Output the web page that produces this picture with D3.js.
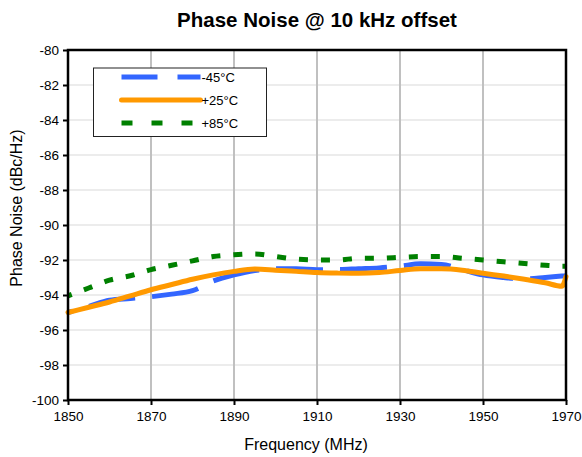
<!DOCTYPE html>
<html>
<head>
<meta charset="utf-8">
<script src="https://cdn.jsdelivr.net/npm/d3@7"></script>
<style>
  body { margin: 0; background: #fff; }
  svg { font-family: Arial, "Liberation Sans", sans-serif; }
</style>
</head>
<body>
<div id="chart"></div>
<script>
// frequency points (MHz)
var freqs = [1850, 1855, 1860, 1865, 1870, 1875, 1880, 1885, 1890, 1895, 1900, 1905, 1910,
             1915, 1920, 1925, 1930, 1935, 1940, 1945, 1950, 1955, 1960, 1965, 1969, 1970];

// phase noise (dBc/Hz) per temperature
var noiseM45 = [-95.0, -94.65, -94.3, -94.2, -94.1, -93.95, -93.75, -93.2, -92.85, -92.6, -92.5, -92.5, -92.55,
                -92.55, -92.5, -92.45, -92.35, -92.22, -92.25, -92.55, -92.85, -93.0, -93.08, -93.0, -92.92, -92.9];
var noiseP25 = [-95.0, -94.7, -94.4, -94.05, -93.7, -93.4, -93.1, -92.85, -92.65, -92.52, -92.58, -92.65, -92.72,
                -92.75, -92.76, -92.72, -92.6, -92.5, -92.5, -92.58, -92.76, -92.92, -93.1, -93.3, -93.5, -92.95];
var noiseP85 = [-94.05, -93.6, -93.15, -92.9, -92.55, -92.3, -92.05, -91.8, -91.7, -91.65, -91.8, -91.95, -92.0,
                -92.0, -91.9, -91.9, -91.85, -91.8, -91.8, -91.9, -92.0, -92.1, -92.2, -92.3, -92.35, -92.35];

var seriesNames = ["-45°C", "+25°C", "+85°C"];
var xTicks = [1850, 1870, 1890, 1910, 1930, 1950, 1970];
var yTicks = [-80, -82, -84, -86, -88, -90, -92, -94, -96, -98, -100];

var width = 582, height = 457;
var margin = {left: 68, right: 16, top: 50, bottom: 57};
var innerW = width - margin.left - margin.right;
var innerH = height - margin.top - margin.bottom;

var svg = d3.select("#chart")
    .append("svg")
    .attr("width", width)
    .attr("height", height)

var x = d3.scaleLinear().domain([1850, 1970]).range([0, innerW]);
var y = d3.scaleLinear().domain([-100, -80]).range([innerH, 0]);

// title
svg.append("text")
    .attr("x", margin.left + innerW / 2)
    .attr("y", 27)
    .attr("text-anchor", "middle")
    .attr("font-size", "20.5px")
    .attr("font-weight", "bold")
    .text("Phase Noise @ 10 kHz offset")

var g = svg.append("g")
    .attr("transform", "translate(" + margin.left + "," + margin.top + ")")

// gridlines
g.selectAll(".hgrid")
    .data(yTicks.slice(1, -1)).enter().append("line")
        .attr("class", "hgrid")
        .attr("x1", 0).attr("x2", innerW)
        .attr("y1", function(d){ return y(d) })
        .attr("y2", function(d){ return y(d) })
        .attr("stroke", "#d9d9d9")
        .attr("stroke-width", 1)

g.selectAll(".vgrid")
    .data(xTicks.slice(1, -1)).enter().append("line")
        .attr("class", "vgrid")
        .attr("y1", 0).attr("y2", innerH)
        .attr("x1", function(d){ return x(d) })
        .attr("x2", function(d){ return x(d) })
        .attr("stroke", "#c0c0c0")
        .attr("stroke-width", 2)

// axes
var yAxis = d3.axisLeft(y)
    .tickValues(yTicks)
    .tickSize(5)
    .tickPadding(4)
    .tickFormat(function(d){ return String(d) })

var xAxis = d3.axisBottom(x)
    .tickValues(xTicks)
    .tickSize(5)
    .tickPadding(6)
    .tickFormat(function(d){ return String(d) })

var ya = g.append("g").call(yAxis)
var xa = g.append("g").attr("transform", "translate(0," + innerH + ")").call(xAxis)

;[ya, xa].forEach(function(a){
    a.select(".domain").remove()
    a.selectAll(".tick line").attr("stroke", "#000").attr("stroke-width", 2)
    a.selectAll(".tick text")
        .attr("font-size", "13.5px")
        .attr("font-family", "Arial, 'Liberation Sans', sans-serif")
        .attr("fill", "#000")
})

// axis titles
svg.append("text")
    .attr("x", 306)
    .attr("y", 450)
    .attr("text-anchor", "middle")
    .attr("font-size", "16px")
    .text("Frequency (MHz)")

svg.append("text")
    .attr("transform", "translate(22,208) rotate(-90)")
    .attr("text-anchor", "middle")
    .attr("font-size", "16px")
    .text("Phase Noise (dBc/Hz)")

// series
var series = [
    {name: seriesNames[0], values: noiseM45, color: "#3366ff", dash: "47,17", offset: 42, cap: "butt"},
    {name: seriesNames[1], values: noiseP25, color: "#ff9900", dash: null, offset: 0, cap: "round"},
    {name: seriesNames[2], values: noiseP85, color: "#008000", dash: "9,13", offset: 5, cap: "butt"}
]

var line = d3.line()
    .x(function(d){ return x(d[0]) })
    .y(function(d){ return y(d[1]) })
    .curve(d3.curveMonotoneX)

g.selectAll(".series")
    .data(series).enter().append("path")
        .attr("class", "series")
        .attr("d", function(s){ return line(freqs.map(function(f, i){ return [f, s.values[i]] })) })
        .attr("fill", "none")
        .attr("stroke", function(s){ return s.color })
        .attr("stroke-width", 5)
        .attr("stroke-linecap", function(s){ return s.cap })
        .attr("stroke-linejoin", "round")
        .attr("stroke-dasharray", function(s){ return s.dash })
        .attr("stroke-dashoffset", function(s){ return s.offset })

// plot border
g.append("rect")
    .attr("x", 0).attr("y", 0)
    .attr("width", innerW).attr("height", innerH)
    .attr("fill", "none")
    .attr("stroke", "#000")
    .attr("stroke-width", 2.5)

// legend
var legend = svg.append("g").attr("transform", "translate(93.5,68)")
legend.append("rect")
    .attr("width", 173).attr("height", 68.5)
    .attr("fill", "#fff")
    .attr("stroke", "#222")
    .attr("stroke-width", 1)

var legendDash = ["36,20", null, "11,19"]
var item = legend.selectAll(".item")
    .data(series).enter().append("g")
        .attr("class", "item")
        .attr("transform", function(d, i){ return "translate(0," + (9 + i * 23) + ")" })

item.append("line")
    .attr("x1", 28).attr("x2", 107)
    .attr("stroke", function(s){ return s.color })
    .attr("stroke-width", 5)
    .attr("stroke-linecap", function(s){ return s.cap })
    .attr("stroke-dasharray", function(s, i){ return legendDash[i] })

item.append("text")
    .attr("x", 108)
    .attr("y", 5)
    .attr("font-size", "13px")
    .text(function(s){ return s.name })
</script>
</body>
</html>
